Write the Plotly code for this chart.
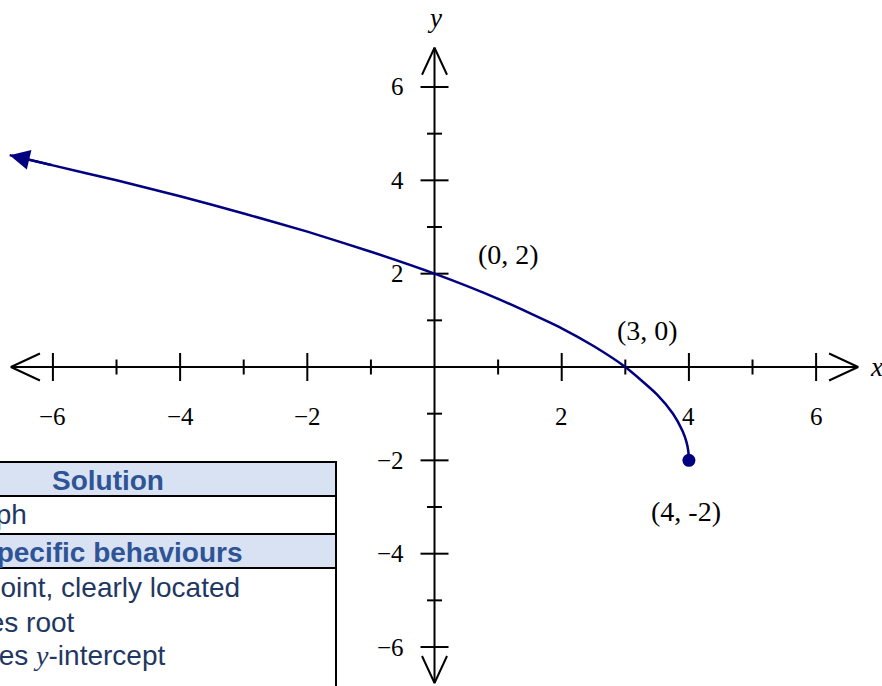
import plotly.graph_objects as go

# ---------------- data ----------------
curve_x = [-6.68, -6.0, -5.0, -4.0, -3.0, -2.0, -1.0, 0.0, 1.0, 2.0, 2.5, 3.0, 3.5, 3.75, 3.9, 3.96, 3.99, 4.0]
curve_y = [4.54, 4.32, 4.0, 3.66, 3.29, 2.90, 2.47, 2.0, 1.46, 0.83, 0.45, 0.0, -0.59, -1.0, -1.37, -1.6, -1.8, -2.0]

key_x = [0, 3, 4]
key_y = [2, 0, -2]
key_labels = ["(0, 2)", "(3, 0)", "(4, -2)"]

x_major = [-6, -4, -2, 2, 4, 6]
x_major_labels = ["\u22126", "\u22124", "\u22122", "2", "4", "6"]
x_minor = [-5, -3, -1, 1, 3, 5]
y_major = [-6, -4, -2, 2, 4, 6]
y_major_labels = ["\u22126", "\u22124", "\u22122", "2", "4", "6"]
y_minor = [-5, -3, -1, 1, 3, 5]

x_axis_ext = [-6.66, 6.66]
y_axis_ext = [-6.77, 6.84]

table_rows = ["Solution", "Graph", "Specific behaviours",
              "\u2713 correct endpoint, clearly located",
              "\u2713 indicates root",
              "\u2713 indicates <span style=\"font-family:'Liberation Serif'\"><i>y</i></span>-intercept"]

# ---------------- layout constants ----------------
W, H = 882, 686
X_RANGE = [-6.832, 7.036]
Y_RANGE = [-6.835, 7.864]
PX = W / (X_RANGE[1] - X_RANGE[0])   # px per x unit
PY = H / (Y_RANGE[1] - Y_RANGE[0])   # px per y unit

NAVY = "#000080"
SERIF = "Liberation Serif"
SANS = "Liberation Sans"

fig = go.Figure()

# axes lines
fig.add_trace(go.Scatter(x=[x_axis_ext[0], x_axis_ext[1], None, 0, 0],
                         y=[0, 0, None, y_axis_ext[0], y_axis_ext[1]],
                         mode="lines", line=dict(color="black", width=2),
                         hoverinfo="skip", showlegend=False))

# ticks
tx, ty = [], []
for v in x_major:
    tx += [v, v, None]; ty += [14 / PY, -14 / PY, None]
for v in x_minor:
    tx += [v, v, None]; ty += [7.5 / PY, -7.5 / PY, None]
for v in y_major:
    ty += [v, v, None]; tx += [14 / PX, -14 / PX, None]
for v in y_minor:
    ty += [v, v, None]; tx += [7.5 / PX, -7.5 / PX, None]
fig.add_trace(go.Scatter(x=tx, y=ty, mode="lines", line=dict(color="black", width=2),
                         hoverinfo="skip", showlegend=False))

# axis arrow chevrons
ax_, ay_ = [], []
hl_x, hw_x = 29 / PX, 13.5 / PY
hl_y, hw_y = 27 / PY, 12.5 / PX
xm, xM = x_axis_ext
ym, yM = y_axis_ext
ax_ += [xM - hl_x, xM, xM - hl_x, None]; ay_ += [hw_x, 0, -hw_x, None]
ax_ += [xm + hl_x, xm, xm + hl_x, None]; ay_ += [hw_x, 0, -hw_x, None]
ax_ += [-hw_y, 0, hw_y, None]; ay_ += [yM - hl_y, yM, yM - hl_y, None]
ax_ += [-hw_y, 0, hw_y, None]; ay_ += [ym + hl_y, ym, ym + hl_y, None]
fig.add_trace(go.Scatter(x=ax_, y=ay_, mode="lines", line=dict(color="black", width=2),
                         hoverinfo="skip", showlegend=False))

# curve
fig.add_trace(go.Scatter(x=curve_x, y=curve_y, mode="lines",
                         line=dict(color=NAVY, width=2.5, shape="spline", smoothing=0.6),
                         hoverinfo="skip", showlegend=False))
# endpoint
fig.add_trace(go.Scatter(x=[curve_x[-1]], y=[curve_y[-1]], mode="markers",
                         marker=dict(color=NAVY, size=13),
                         hoverinfo="skip", showlegend=False))

annotations = []
# curve arrowhead
annotations.append(dict(x=curve_x[0], y=curve_y[0], ax=curve_x[1], ay=curve_y[1],
                        xref="x", yref="y", axref="x", ayref="y", text="",
                        showarrow=True, arrowhead=2, arrowsize=1.6, arrowwidth=2.5,
                        arrowcolor=NAVY))

# tick labels
for v, t in zip(x_major, x_major_labels):
    annotations.append(dict(x=v, y=0, yshift=-49, text=t, showarrow=False,
                            font=dict(family=SERIF, size=25, color="black")))
for v, t in zip(y_major, y_major_labels):
    annotations.append(dict(x=0, y=v, xshift=-29, xanchor="right", text=t, showarrow=False,
                            font=dict(family=SERIF, size=25, color="black")))

# axis titles
annotations.append(dict(x=xM, y=0, xshift=18, text="<i>x</i>", showarrow=False,
                        font=dict(family=SERIF, size=27, color="black")))
annotations.append(dict(x=0, y=yM, yshift=30, text="<i>y</i>", showarrow=False,
                        font=dict(family=SERIF, size=27, color="black")))

# key point labels
shifts = [(74, 19), (22, 37), (-3, -51)]
for px_, py_, lab, (sx, sy) in zip(key_x, key_y, key_labels, shifts):
    annotations.append(dict(x=px_, y=py_, xshift=sx, yshift=sy, text=lab, showarrow=False,
                            font=dict(family=SERIF, size=28, color="black")))

# ---------------- table (paper coordinates) ----------------
def fx(p):
    return p / W

def fy(p):
    return 1 - p / H

TR = 336
shapes = []
for top, bot in [(462, 496), (534, 568)]:
    shapes.append(dict(type="rect", xref="paper", yref="paper", x0=-0.3, x1=fx(TR),
                       y0=fy(bot), y1=fy(top), fillcolor="#D9E2F3", line=dict(width=0),
                       layer="below"))
for yy in [462, 496, 534, 568]:
    shapes.append(dict(type="line", xref="paper", yref="paper", x0=-0.3, x1=fx(TR),
                       y0=fy(yy), y1=fy(yy), line=dict(color="black", width=2)))
shapes.append(dict(type="line", xref="paper", yref="paper", x0=fx(TR), x1=fx(TR),
                   y0=fy(461), y1=fy(700), line=dict(color="black", width=2)))

HEAD_C = "#2F5496"
BODY_C = "#1F3763"
annotations.append(dict(xref="paper", yref="paper", x=fx(108), y=fy(480), text="<b>" + table_rows[0] + "</b>",
                        showarrow=False, xanchor="center", yanchor="middle",
                        font=dict(family=SANS, size=28, color=HEAD_C)))
row_specs = [
    (table_rows[1], 29, 514, False, BODY_C),
    (table_rows[2], 245, 552, True, HEAD_C),
    (table_rows[3], 242, 587, False, BODY_C),
    (table_rows[4], 77, 622, False, BODY_C),
    (table_rows[5], 167, 655, False, BODY_C),
]
for txt, right, cy, bold, col in row_specs:
    annotations.append(dict(xref="paper", yref="paper", x=fx(right), y=fy(cy),
                            text=("<b>" + txt + "</b>") if bold else txt,
                            showarrow=False, xanchor="right", yanchor="middle",
                            font=dict(family=SANS, size=28, color=col)))

fig.update_layout(
    width=W, height=H, autosize=False,
    margin=dict(l=0, r=0, t=0, b=0),
    paper_bgcolor="white", plot_bgcolor="white",
    xaxis=dict(range=X_RANGE, visible=False, fixedrange=True),
    yaxis=dict(range=Y_RANGE, visible=False, fixedrange=True),
    annotations=annotations, shapes=shapes,
    showlegend=False,
)

fig.write_html("out.html",
               config=dict(displayModeBar=False),
               post_script="document.body.style.margin='0';document.body.style.overflow='hidden';")
